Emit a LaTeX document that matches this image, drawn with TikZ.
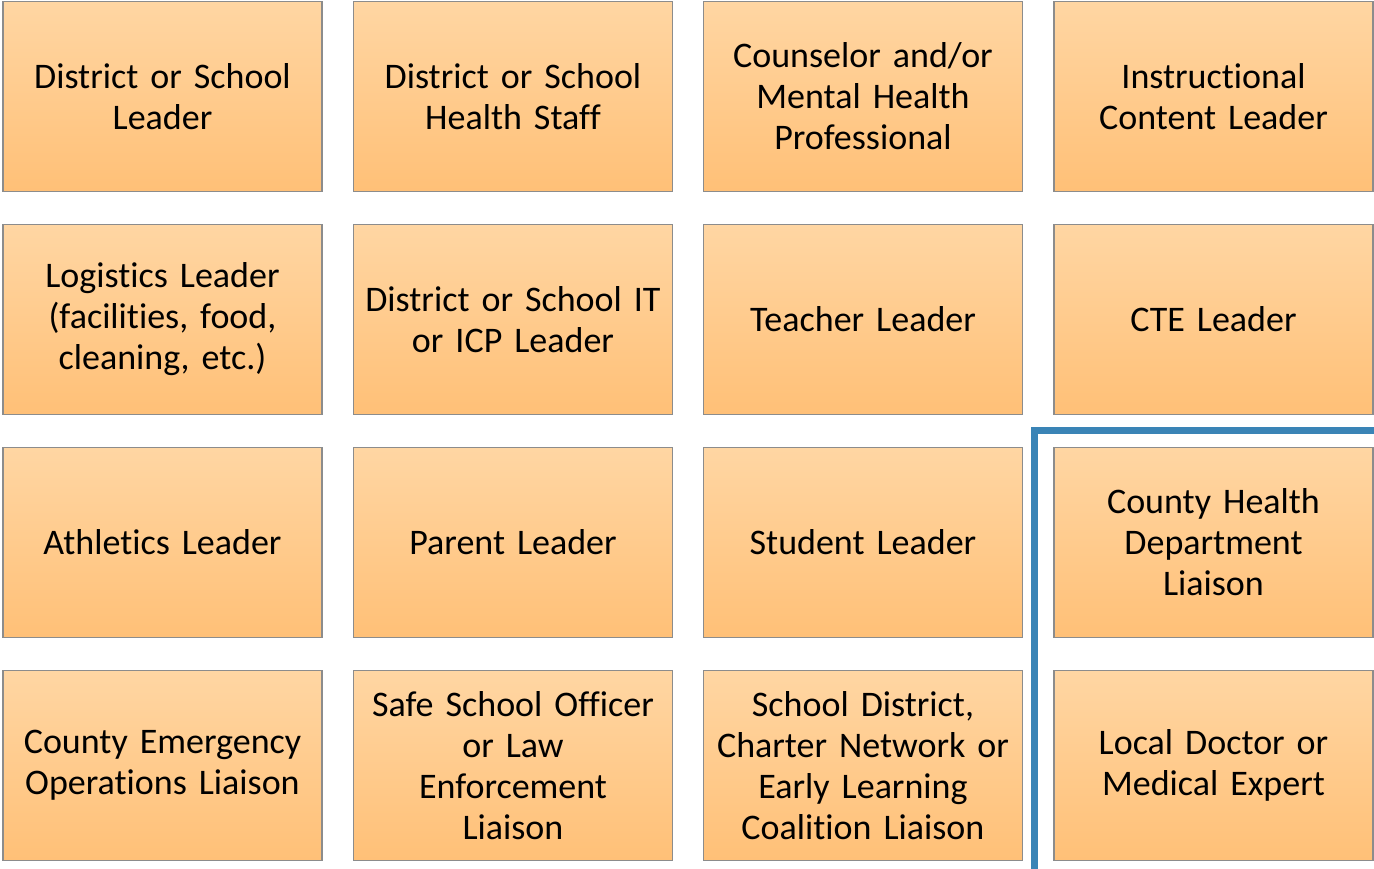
\documentclass[tikz,border=0pt]{standalone}
\usepackage{fontspec}
\setmainfont{Carlito}[RawFeature=-liga, WordSpace=0.8]
\definecolor{boxtop}{HTML}{FFD6A3}
\definecolor{boxbot}{HTML}{FFC077}
\definecolor{boxedge}{HTML}{8C8C8C}
\definecolor{blueline}{HTML}{3A84B6}
\begin{document}
\begin{tikzpicture}[x=1pt,y=-1pt,
  rolebox/.style={draw=boxedge, line width=1.2pt, top color=boxtop, bottom color=boxbot,
    minimum width=319pt, minimum height=190pt, inner sep=0pt,
    align=center, text width=316pt,
    font=\fontsize{36pt}{41pt}\selectfont},
  divider/.style={draw=blueline, line width=7pt}]
\path[use as bounding box] (0,0) rectangle (1374,869);
\node[rolebox] (a1) at (162.5,96.5) {District or School\\Leader};
\node[rolebox] (a2) at (513,96.5) {District or School\\Health Staff};
\node[rolebox] (a3) at (863,96.5) {Counselor and/or\\Mental Health\\Professional};
\node[rolebox] (a4) at (1213.5,96.5) {Instructional\\Content Leader};
\node[rolebox] (b1) at (162.5,319.5) {Logistics Leader\\(facilities, food,\\cleaning, etc.)};
\node[rolebox] (b2) at (513,319.5) {District or School IT\\or ICP Leader};
\node[rolebox] (b3) at (863,319.5) {Teacher Leader};
\node[rolebox] (b4) at (1213.5,319.5) {CTE Leader};
\node[rolebox] (c1) at (162.5,542.5) {Athletics Leader};
\node[rolebox] (c2) at (513,542.5) {Parent Leader};
\node[rolebox] (c3) at (863,542.5) {Student Leader};
\node[rolebox] (c4) at (1213.5,542.5) {County Health\\Department\\Liaison};
\node[rolebox] (d1) at (162.5,765.5) {County Emergency\\Operations Liaison};
\node[rolebox] (d2) at (513,765.5) {Safe School Officer\\or Law\\Enforcement\\Liaison};
\node[rolebox] (d3) at (863,765.5) {School District,\\Charter Network or\\Early Learning\\Coalition Liaison};
\node[rolebox] (d4) at (1213.5,765.5) {Local Doctor or\\Medical Expert};
\coordinate (corner) at (1034,430.5);
\draw[divider] (1034,869) -- (corner) -- (1374,430.5);
\end{tikzpicture}
\end{document}
